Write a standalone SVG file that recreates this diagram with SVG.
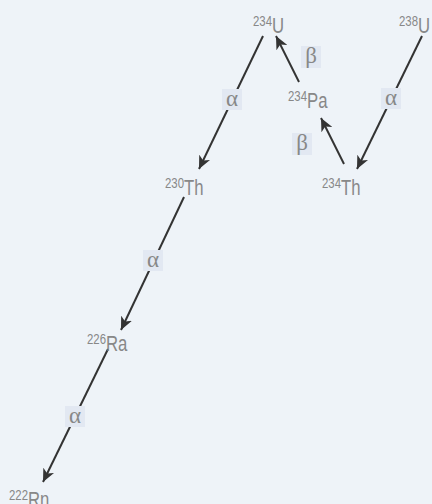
<svg xmlns="http://www.w3.org/2000/svg" width="432" height="504" viewBox="0 0 432 504">
<defs>
<style>
.n{font-family:"Liberation Sans",Arial,sans-serif;fill:#888;font-size:22px}
.s{font-size:15px}
.lb{fill:#e2e8f2}
.lt{font-family:"Liberation Serif","DejaVu Serif",serif;fill:#888;font-size:23px;text-anchor:middle}
.c{stroke:#333;stroke-width:2;fill:none;marker-end:url(#ah)}
</style>
<marker id="ah" markerUnits="userSpaceOnUse" markerWidth="14" markerHeight="12" refX="13" refY="6" orient="auto">
<path d="M0,0 L13,6 L0,12 L3.5,6 z" fill="#333"/>
</marker>
</defs>
<rect width="432" height="504" fill="#eef3f8"/>
<g id="connectors">
<line class="c" x1="422" y1="36" x2="357" y2="169"/>
<line class="c" x1="344" y1="164" x2="321" y2="118"/>
<line class="c" x1="299" y1="82" x2="276" y2="36"/>
<line class="c" x1="263" y1="36" x2="199" y2="169"/>
<line class="c" x1="184" y1="197" x2="121" y2="330"/>
<line class="c" x1="108" y1="349" x2="43" y2="482"/>
<g id="labels">
<rect class="lb" x="381" y="88" width="20" height="21"/><text class="lt" x="391" y="105">α</text>
<rect class="lb" x="292" y="133" width="20" height="22"/><text class="lt" x="302" y="150">β</text>
<rect class="lb" x="301" y="46" width="20" height="22"/><text class="lt" x="311" y="63">β</text>
<rect class="lb" x="222" y="89" width="20" height="21"/><text class="lt" x="232" y="106">α</text>
<rect class="lb" x="143" y="250" width="20" height="21"/><text class="lt" x="153" y="267">α</text>
<rect class="lb" x="65" y="406" width="20" height="21"/><text class="lt" x="75" y="423">α</text>
</g>
</g>
<g id="U238"><text class="n" transform="translate(399,33) scale(0.76,1)"><tspan class="s" dy="-7">238</tspan><tspan dy="7">U</tspan></text></g>
<g id="U234"><text class="n" transform="translate(253,33) scale(0.76,1)"><tspan class="s" dy="-7">234</tspan><tspan dy="7">U</tspan></text></g>
<g id="Pa234"><text class="n" transform="translate(288,108) scale(0.76,1)"><tspan class="s" dy="-7">234</tspan><tspan dy="7">Pa</tspan></text></g>
<g id="Th234"><text class="n" transform="translate(322,195) scale(0.76,1)"><tspan class="s" dy="-7">234</tspan><tspan dy="7">Th</tspan></text></g>
<g id="Th230"><text class="n" transform="translate(165,195) scale(0.76,1)"><tspan class="s" dy="-7">230</tspan><tspan dy="7">Th</tspan></text></g>
<g id="Ra226"><text class="n" transform="translate(87,351) scale(0.76,1)"><tspan class="s" dy="-7">226</tspan><tspan dy="7">Ra</tspan></text></g>
<g id="Rn222"><text class="n" transform="translate(9,507) scale(0.76,1)"><tspan class="s" dy="-7">222</tspan><tspan dy="7">Rn</tspan></text></g>
</svg>
